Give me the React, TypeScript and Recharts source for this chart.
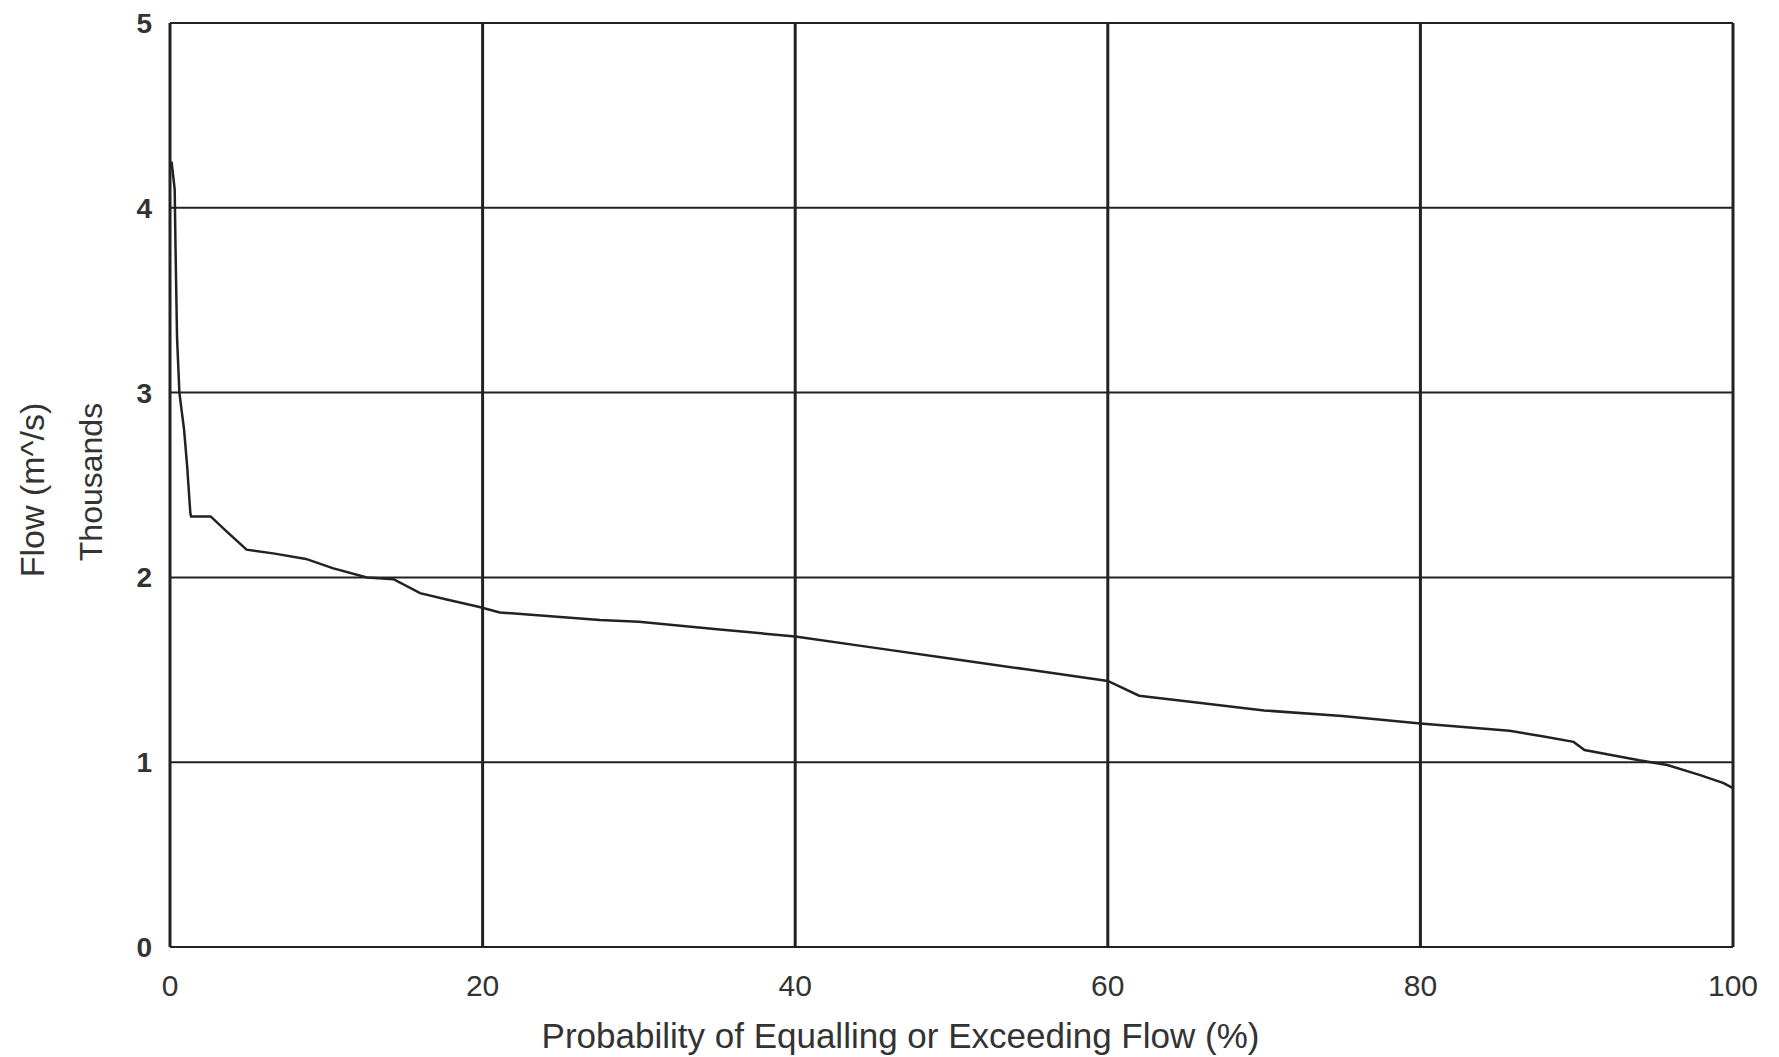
import { LineChart, Line, XAxis, YAxis, CartesianGrid } from "recharts";

// flow duration curve, flow in thousands of m^3/s
const probability = [
  0.1, 0.3, 0.35, 0.45, 0.6, 0.9, 1.1, 1.3, 1.35, 2.6, 3.6, 4.9, 6.6, 8.7, 10.4, 12.6, 14.3, 16.0, 17.7,
  19.8, 21.1, 27.5, 30, 35, 40, 45, 50, 55, 60, 62, 65, 70, 75, 80, 85.7, 87.8, 89.8, 90.5, 94, 95.8,
  97.9, 99.4, 100,
];
const flow = [
  4.25, 4.1, 3.8, 3.3, 3.0, 2.8, 2.6, 2.35, 2.33, 2.33, 2.25, 2.15, 2.13, 2.1, 2.05, 2.0, 1.99, 1.915, 1.88,
  1.84, 1.81, 1.77, 1.76, 1.72, 1.68, 1.62, 1.56, 1.5, 1.44, 1.36, 1.33, 1.28, 1.25, 1.21, 1.17, 1.14, 1.11,
  1.066, 1.01, 0.985, 0.93, 0.887, 0.86,
];
const xTicks = [0, 20, 40, 60, 80, 100];
const yTicks = [0, 1, 2, 3, 4, 5];

const data = probability.map((p, i) => ({ p, q: flow[i] }));

const font = "'Liberation Sans', Arial, sans-serif";

function YTitle(props: any) {
  const vb = props.viewBox || {};
  const cy = vb.y + vb.height / 2;
  return (
    <g fontFamily={font} fill="#333">
      <text x={32} y={cy + 5} fontSize={34} textAnchor="middle" dominantBaseline="central" transform={`rotate(-90 32 ${cy + 5})`}>
        Flow (m^/s)
      </text>
      <text x={91} y={cy - 3} fontSize={32} textAnchor="middle" dominantBaseline="central" transform={`rotate(-90 91 ${cy - 3})`}>
        Thousands
      </text>
    </g>
  );
}

function XTitle(props: any) {
  const vb = props.viewBox || {};
  const cx = vb.x + vb.width / 2 - 51;
  return (
    <text x={cx} y={1035} fontFamily={font} fontSize={35} fill="#333" textAnchor="middle" dominantBaseline="central">
      Probability of Equalling or Exceeding Flow (%)
    </text>
  );
}

export default function App() {
  return (
    <div style={{ position: "absolute", left: 0, top: 0, background: "#fff" }}>
      <LineChart width={1779} height={1057} data={data} margin={{ top: 23, right: 46, bottom: 0, left: 0 }}>
        <CartesianGrid stroke="#222" strokeWidth={2} vertical={false} horizontalValues={yTicks} />
        <CartesianGrid stroke="#222" strokeWidth={3} horizontal={false} verticalValues={xTicks} />
        <XAxis
          dataKey="p"
          type="number"
          domain={[0, 100]}
          ticks={xTicks}
          axisLine={false}
          tickLine={false}
          tickSize={0}
          tickMargin={28}
          height={110}
          tick={{ fill: "#333", fontSize: 30, fontFamily: font }}
          label={<XTitle />}
        />
        <YAxis
          type="number"
          domain={[0, 5]}
          ticks={yTicks}
          axisLine={false}
          tickLine={false}
          tickSize={0}
          tickMargin={18}
          width={170}
          tick={{ fill: "#333", fontSize: 28, fontWeight: "bold", fontFamily: font }}
          label={<YTitle />}
        />
        <Line dataKey="q" type="linear" stroke="#222" strokeWidth={2.5} dot={false} isAnimationActive={false} />
      </LineChart>
    </div>
  );
}
